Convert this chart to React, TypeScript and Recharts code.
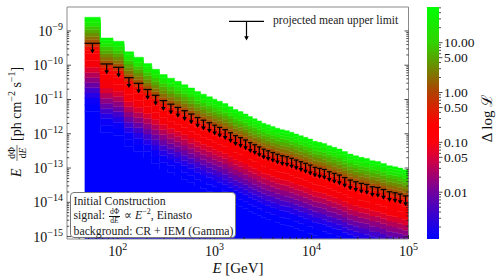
import React from "react";
import { ComposedChart, Area, Scatter, ErrorBar, XAxis, YAxis, ReferenceArea } from "recharts";

const FONT = '"Liberation Serif", "DejaVu Serif", serif';

// energy bin edges [GeV]
const binEdges = [
  45.6, 66.2, 89.6, 116.5, 146.4, 184.5, 224.7, 270, 324.3, 386, 452.7, 529.9, 621.6, 717, 821,
  947.3, 1057, 1202, 1374, 1548, 1743, 1963, 2212, 2456, 2741, 3044, 3373, 3772, 4207, 4706, 5277,
  5902, 6570, 7346, 8199, 9169, 10250, 11440, 12800, 14350, 16160, 18200, 20610, 23450, 26780,
  30530, 34800, 39680, 45230, 51560, 59200, 68300, 77300, 87100, 100000,
];

// projected mean upper limit per bin, E dPhi/dE [ph cm^-2 s^-1]
const upperLimit = [
  4.37e-10, 1.09e-10, 8.7e-11, 4.33e-11, 2.97e-11, 1.96e-11, 1.33e-11, 9.3e-12, 7.3e-12, 5.88e-12,
  4.71e-12, 3.77e-12, 2.98e-12, 2.49e-12, 2.1e-12, 1.78e-12, 1.54e-12, 1.32e-12, 1.07e-12, 8.8e-13,
  7.7e-13, 6.6e-13, 5.5e-13, 4.79e-13, 4.13e-13, 3.54e-13, 3.18e-13, 2.84e-13, 2.53e-13, 2.29e-13,
  2.14e-13, 1.92e-13, 1.71e-13, 1.53e-13, 1.37e-13, 1.22e-13, 1.05e-13, 9.8e-14, 9.1e-14, 7.8e-14,
  7.0e-14, 6.25e-14, 5.28e-14, 4.47e-14, 3.98e-14, 3.57e-14, 3.32e-14, 2.84e-14, 2.71e-14, 2.37e-14,
  2.03e-14, 1.9e-14, 1.74e-14, 1.54e-14,
];

// likelihood scan rows, in decades relative to the upper limit (top of scan = +0.76)
const layerDecades = [
  -2.0, -1.8, -1.6, -1.45, -1.3, -1.15, -1.0, -0.85, -0.7, -0.5, -0.3, -0.2, -0.1, 0, 0.1, 0.2,
  0.3, 0.4, 0.5, 0.6, 0.68, 0.76,
];

const xMajor = [100, 1000, 10000, 100000];
const yMajor = [1e-15, 1e-14, 1e-13, 1e-12, 1e-11, 1e-10, 1e-9];
const cbMajor = [0.01, 0.05, 0.1, 0.5, 1, 5, 10];
const cbLabels = ["0.01", "0.05", "0.10", "0.50", "1.00", "5.00", "10.00"];

const X_DOMAIN = [30, 100000];
const Y_DOMAIN = [8.5e-16, 5e-9];
const CB_DOMAIN = [0.00115, 52];
const PLOT_W = 341.5;

// colour of the likelihood map vs. offset from the limit (decades)
const colorStops: [number, number[]][] = [
  [-1.8, [0, 0, 255]],
  [-1.6, [20, 0, 245]],
  [-1.4, [60, 0, 210]],
  [-1.2, [110, 0, 160]],
  [-1.0, [160, 0, 110]],
  [-0.8, [215, 0, 50]],
  [-0.6, [245, 0, 10]],
  [-0.2, [255, 0, 0]],
  [-0.1, [225, 25, 0]],
  [0.0, [185, 60, 0]],
  [0.1, [150, 95, 0]],
  [0.25, [110, 140, 0]],
  [0.4, [70, 185, 0]],
  [0.55, [30, 230, 0]],
  [0.76, [0, 255, 0]],
];

const mapColor = (d: number) => {
  if (d <= colorStops[0][0]) return `rgb(${colorStops[0][1].join(",")})`;
  for (let i = 1; i < colorStops.length; i++) {
    const [d1, c1] = colorStops[i];
    const [d0, c0] = colorStops[i - 1];
    if (d <= d1) {
      const t = (d - d0) / (d1 - d0);
      const c = c0.map((v, j) => Math.round(v + (c1[j] - v) * t));
      return `rgb(${c.join(",")})`;
    }
  }
  return `rgb(${colorStops[colorStops.length - 1][1].join(",")})`;
};

const layerColors = layerDecades.map((d, k) =>
  mapColor(k === 0 ? d - 0.1 : (d + layerDecades[k - 1]) / 2)
);

const heatRows = binEdges.map((e, i) => {
  const ul = upperLimit[Math.min(i, upperLimit.length - 1)];
  const bounds = [Y_DOMAIN[0], ...layerDecades.map((d) => ul * Math.pow(10, d))];
  const row: any = { x: e };
  layerDecades.forEach((_, k) => {
    row["l" + k] = [bounds[k], bounds[k + 1]];
  });
  return row;
});

const ulRows = upperLimit.map((ul, i) => {
  const lo = binEdges[i];
  const hi = binEdges[i + 1];
  const c = Math.sqrt(lo * hi);
  return { x: c, ul, xerr: [c - lo, hi - c] };
});

const minors = (from: number, to: number) => {
  const out: number[] = [];
  for (let p = from; p <= to; p *= 10) for (let m = 2; m <= 9; m++) out.push(p * m);
  return out;
};
const xTicks = [...xMajor, ...minors(10, 10000).filter((v) => v > 31 && v < 100000)];
const yTicks = [...yMajor, ...minors(1e-15, 1e-9).filter((v) => v < Y_DOMAIN[1])];
const cbTicks = [
  ...cbMajor,
  ...minors(0.001, 10).filter((v) => v > CB_DOMAIN[0] && v < CB_DOMAIN[1] && !cbMajor.some((m) => Math.abs(m - v) < 1e-9)),
];

const isPow10 = (v: number) => Math.abs(Math.log10(v) - Math.round(Math.log10(v))) < 1e-6;

const XTick = (props: any) => {
  const { x, y, payload } = props;
  const v = payload.value as number;
  const major = isPow10(v);
  return (
    <g>
      <line x1={x} x2={x} y1={y} y2={y - (major ? 4 : 2.2)} stroke="#222" strokeWidth={0.8} />
      {major && (
        <text x={x} y={y + 17} textAnchor="middle" fontFamily={FONT} fontSize={14} fill="#111">
          10<tspan dy={-6} fontSize={10}>{Math.round(Math.log10(v))}</tspan>
        </text>
      )}
    </g>
  );
};

const YTick = (props: any) => {
  const { x, y, payload } = props;
  const v = payload.value as number;
  const major = isPow10(v);
  const len = major ? 4 : 2.2;
  return (
    <g>
      <line x1={x} x2={x + len} y1={y} y2={y} stroke="#222" strokeWidth={0.8} />
      <line x1={x + PLOT_W} x2={x + PLOT_W - len} y1={y} y2={y} stroke="#222" strokeWidth={0.8} />
      {major && (
        <text x={x - 4} y={y + 5} textAnchor="end" fontFamily={FONT} fontSize={14} fill="#111">
          10<tspan dy={-6} fontSize={10}>{"\u2212" + -Math.round(Math.log10(v))}</tspan>
        </text>
      )}
    </g>
  );
};

const CbTick = (props: any) => {
  const { x, y, payload } = props;
  const idx = cbMajor.findIndex((m) => Math.abs(m - payload.value) < 1e-9);
  const major = idx >= 0;
  return (
    <g>
      <line x1={x} x2={x + (major ? 3.5 : 2)} y1={y} y2={y} stroke="#222" strokeWidth={0.8} />
      {major && (
        <text x={x + 5} y={y + 4.5} fontFamily={FONT} fontSize={13.5} fill="#111">
          {cbLabels[idx]}
        </text>
      )}
    </g>
  );
};

const ULMarker = (props: any) => {
  const { cx, cy } = props;
  return (
    <g>
      <line x1={cx} x2={cx} y1={cy} y2={cy + 7} stroke="#000" strokeWidth={1.2} />
      <path d={`M${cx - 2.3},${cy + 6.3} L${cx + 2.3},${cy + 6.3} L${cx},${cy + 10.3} Z`} fill="#000" />
    </g>
  );
};

const YLabel = () => (
  <g transform="translate(21,119) rotate(-90)" fontFamily={FONT} fill="#111">
    <text x={-58} y={0} fontSize={14} fontStyle="italic">E</text>
    <text x={-34} y={-6} fontSize={9.5} textAnchor="middle">d&#934;</text>
    <line x1={-42} x2={-26} y1={-4} y2={-4} stroke="#111" strokeWidth={0.6} />
    <text x={-34} y={5} fontSize={9.5} textAnchor="middle">
      d<tspan fontStyle="italic">E</tspan>
    </text>
    <text x={-22} y={0} fontSize={14}>
      [ph cm<tspan dy={-6} fontSize={10}>{"\u22122"}</tspan>
      <tspan dy={6}> s</tspan>
      <tspan dy={-6} fontSize={10}>{"\u22121"}</tspan>
      <tspan dy={6}>]</tspan>
    </text>
  </g>
);

const XLabel = () => (
  <text x={238} y={273} textAnchor="middle" fontFamily={FONT} fontSize={15} fill="#111">
    <tspan fontStyle="italic">E</tspan> [GeV]
  </text>
);

const CbLabel = () => (
  <text transform="translate(84,118) rotate(-90)" textAnchor="middle" fontFamily={FONT} fontSize={15} fill="#111">
    {"\u0394 log \u2112"}
  </text>
);

const cbRows = [
  { x: 0, range: CB_DOMAIN },
  { x: 1, range: CB_DOMAIN },
];

const cbGradient = [
  [0, "rgb(0,255,0)"],
  [0.155, "rgb(50,210,0)"],
  [0.228, "rgb(90,160,0)"],
  [0.358, "rgb(170,70,0)"],
  [0.431, "rgb(215,35,0)"],
  [0.51, "rgb(255,0,0)"],
  [0.58, "rgb(250,0,10)"],
  [0.65, "rgb(215,0,60)"],
  [0.8, "rgb(110,0,160)"],
  [1, "rgb(0,0,255)"],
];

const Frac = () => (
  <span
    style={{
      display: "inline-flex",
      flexDirection: "column",
      alignItems: "center",
      fontSize: 7.5,
      lineHeight: "7.5px",
      verticalAlign: "middle",
      margin: "0 1px",
    }}
  >
    <span style={{ borderBottom: "0.6px solid #111", padding: "0 1px" }}>d&Phi;</span>
    <span>
      d<i>E</i>
    </span>
  </span>
);

export default function App() {
  return (
    <div style={{ position: "absolute", left: 0, top: 0, width: 498, height: 280, background: "#fff" }}>
      <ComposedChart width={498} height={280} data={heatRows} margin={{ top: 7, right: 89.5, bottom: 0, left: 0 }}>
        <XAxis
          dataKey="x"
          type="number"
          scale="log"
          domain={X_DOMAIN}
          allowDataOverflow
          ticks={xTicks}
          interval={0}
          tick={XTick}
          tickLine={false}
          axisLine={false}
          tickSize={0}
          tickMargin={0}
          height={41}
          label={XLabel}
        />
        <YAxis
          type="number"
          scale="log"
          domain={Y_DOMAIN}
          allowDataOverflow
          ticks={yTicks}
          interval={0}
          tick={YTick}
          tickLine={false}
          axisLine={false}
          tickSize={0}
          tickMargin={0}
          width={67}
          label={YLabel}
        />
        {layerDecades.map((_, k) => (
          <Area
            key={k}
            dataKey={"l" + k}
            type="stepAfter"
            fill={layerColors[k]}
            fillOpacity={1}
            stroke={layerColors[k]}
            strokeWidth={0.4}
            dot={false}
            activeDot={false}
            isAnimationActive={false}
          />
        ))}
        <Scatter data={ulRows} dataKey="ul" shape={ULMarker} isAnimationActive={false}>
          <ErrorBar dataKey="xerr" direction="x" width={0} stroke="#000" strokeWidth={1.2} />
        </Scatter>
        <ReferenceArea
          x1={X_DOMAIN[0]}
          x2={X_DOMAIN[1]}
          y1={Y_DOMAIN[0]}
          y2={Y_DOMAIN[1]}
          fill="none"
          stroke="#8a8a8a"
          strokeWidth={1}
          ifOverflow="visible"
        />
      </ComposedChart>

      <div style={{ position: "absolute", left: 408, top: 0 }}>
        <ComposedChart width={90} height={280} data={cbRows} margin={{ top: 7, right: 0, bottom: 41, left: 19 }}>
          <defs>
            <linearGradient id="cbGrad" x1="0" y1="0" x2="0" y2="1">
              {cbGradient.map(([o, c]) => (
                <stop key={String(o)} offset={o as number} stopColor={c as string} />
              ))}
            </linearGradient>
          </defs>
          <XAxis dataKey="x" type="number" domain={[0, 1]} hide />
          <YAxis
            orientation="right"
            type="number"
            scale="log"
            domain={CB_DOMAIN}
            allowDataOverflow
            ticks={cbTicks}
            interval={0}
            tick={CbTick}
            tickLine={false}
            axisLine={false}
            tickSize={0}
            tickMargin={0}
            width={59}
            label={CbLabel}
          />
          <Area dataKey="range" type="linear" fill="url(#cbGrad)" fillOpacity={1} stroke="none" isAnimationActive={false} />
        </ComposedChart>
      </div>

      <svg style={{ position: "absolute", left: 0, top: 0 }} width={498} height={60}>
        <line x1={229} x2={264} y1={21.3} y2={21.3} stroke="#000" strokeWidth={1.2} />
        <line x1={246.5} x2={246.5} y1={21.3} y2={37} stroke="#000" strokeWidth={1.2} />
        <path d="M244.2,36.3 L248.8,36.3 L246.5,40.5 Z" fill="#000" />
      </svg>
      <div
        style={{
          position: "absolute",
          left: 273,
          top: 14,
          fontFamily: FONT,
          fontSize: 11.6,
          lineHeight: "13px",
          color: "#222",
          whiteSpace: "nowrap",
        }}
      >
        projected mean upper limit
      </div>

      <div
        style={{
          position: "absolute",
          left: 69.5,
          top: 191.5,
          width: 166,
          height: 46,
          boxSizing: "border-box",
          border: "1px solid #777",
          borderRadius: 4,
          background: "#fff",
          padding: "1px 3px",
          fontFamily: FONT,
          fontSize: 11.8,
          lineHeight: "14.5px",
          color: "#222",
          whiteSpace: "nowrap",
        }}
      >
        <div>Initial Construction</div>
        <div>
          signal: <Frac /> &prop; <i>E</i>
          <sup style={{ fontSize: 8, lineHeight: 0 }}>&minus;2</sup>, Einasto
        </div>
        <div>background: CR + IEM (Gamma)</div>
      </div>
    </div>
  );
}
